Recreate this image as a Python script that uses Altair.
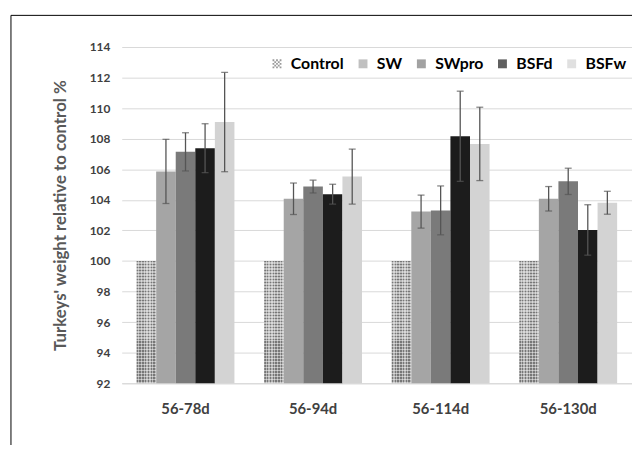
import altair as alt
import pandas as pd

groups = ["56-78d", "56-94d", "56-114d", "56-130d"]
series = ["Control", "SW", "SWpro", "BSFd", "BSFw"]

control = [100, 100, 100, 100]
sw = [105.86, 104.07, 103.23, 104.07]
swpro = [107.14, 104.87, 103.31, 105.21]
bsfd = [107.38, 104.37, 108.16, 102.03]
bsfw = [109.09, 105.52, 107.66, 103.81]

sw_err = [2.1, 1.03, 1.08, 0.8]
swpro_err = [1.25, 0.42, 1.6, 0.86]
bsfd_err = [1.6, 0.65, 2.95, 1.65]
bsfw_err = [3.25, 1.8, 2.4, 0.75]

colors = ["#6f6f6f", "#a5a5a5", "#7a7a7a", "#1c1c1c", "#d3d3d3"]
yticks = [92, 94, 96, 98, 100, 102, 104, 106, 108, 110, 112, 114]

vals = {"Control": control, "SW": sw, "SWpro": swpro, "BSFd": bsfd, "BSFw": bsfw}
errs = {"SW": sw_err, "SWpro": swpro_err, "BSFd": bsfd_err, "BSFw": bsfw_err}

rows = []
for s in series:
    for g, v in zip(groups, vals[s]):
        rows.append({"group": g, "series": s, "value": v})
df = pd.DataFrame(rows)
cdf = df[df["series"] == "Control"]

erows = []
for s, el in errs.items():
    for g, v, e in zip(groups, vals[s], el):
        erows.append({"group": g, "series": s, "lo": v - e, "hi": v + e})
edf = pd.DataFrame(erows)

# striped gradients used together as a dotted texture for the Control bars
def stripes(n, c1, c2, horizontal):
    st = []
    for k in range(n):
        st += [
            {"offset": k / n, "color": c1},
            {"offset": (k + 0.5) / n, "color": c1},
            {"offset": (k + 0.5) / n, "color": c2},
            {"offset": (k + 1) / n, "color": c2},
        ]
    if horizontal:
        return {"gradient": "linear", "x1": 0, "y1": 0, "x2": 0, "y2": 1, "stops": st}
    return {"gradient": "linear", "x1": 0, "y1": 0, "x2": 1, "y2": 0, "stops": st}

texture_h = stripes(41, "#777777", "#b8b8b8", True)
texture_v = stripes(7, "rgba(255,255,255,0)", "rgba(255,255,255,0.45)", False)

# checker symbol path for the Control legend entry
cells = 5
cs = 2 / cells
parts = []
for i in range(cells):
    for j in range(cells):
        if (i + j) % 2 == 0:
            x0 = -1 + i * cs
            y0 = -1 + j * cs
            parts.append(f"M{x0:.2f},{y0:.2f}h{cs:.2f}v{cs:.2f}h{-cs:.2f}z")
checker = "".join(parts)
shapes = [checker, "square", "square", "square", "square"]

font = "Lato"

xenc = alt.X(
    "group:N", sort=groups, title=None,
    scale=alt.Scale(paddingInner=0.233, paddingOuter=0.1165),
    axis=alt.Axis(labelAngle=0, labelAlign="center", bandPosition=0.5, ticks=False,
                  domainColor="#d9d9d9", labelPadding=19,
                  labelFont=font, labelFontSize=15, labelFontWeight="bold", labelColor="#404040"),
)
xoff = alt.XOffset("series:N", sort=series, scale=alt.Scale(domain=series, paddingInner=0, paddingOuter=0))
yscale = alt.Scale(domain=[92, 114], nice=False, zero=False)
yaxis = alt.Axis(values=yticks, domain=False, ticks=False, labelOverlap=False,
                 gridColor="#d9d9d9", labelPadding=12, labelFont=font, labelFontSize=12,
                 labelFontWeight="bold", labelColor="#404040", titleFont=font,
                 titleFontSize=17, titleFontWeight="bold", titleColor="#595959",
                 titlePadding=20)
ytitle = "Turkeys' weight relative to control %"

legend = alt.Legend(
    title=None, orient="none", direction="horizontal",
    legendX=149, legendY=9, padding=0,
    symbolSize=81, symbolStrokeWidth=0,
    labelFont=font, labelFontSize=16, labelFontWeight="bold",
    labelColor="#000000", labelOffset=6, columnPadding=11,
)
cscale = alt.Scale(domain=series, range=colors)

# hidden keys (drawn behind the bars) that give the legend its symbols
keys = alt.Chart(df).mark_point(filled=True, size=20).encode(
    x=xenc, xOffset=xoff,
    y=alt.Y("value:Q", scale=yscale, title=ytitle, axis=yaxis),
    yOffset=alt.value(30),
    color=alt.Color("series:N", sort=series, scale=cscale, legend=legend),
    shape=alt.Shape("series:N", sort=series, scale=alt.Scale(domain=series, range=shapes), legend=legend),
)

bars = alt.Chart(df).mark_bar().encode(
    x=xenc,
    xOffset=xoff,
    y=alt.Y("value:Q", scale=yscale, title=ytitle, axis=yaxis),
    y2=alt.datum(92),
    color=alt.condition(
        alt.datum.series == "Control",
        alt.value(texture_h),
        alt.Color("series:N", sort=series, scale=cscale, legend=legend),
    ),
)

overlay = alt.Chart(cdf).mark_bar(color=texture_v).encode(
    x=xenc, xOffset=xoff,
    y=alt.Y("value:Q", scale=yscale, title=ytitle, axis=yaxis), y2=alt.datum(92),
)

err_color = "#555555"
rules = alt.Chart(edf).mark_rule(color=err_color, strokeWidth=1.3).encode(
    x=xenc, xOffset=xoff,
    y=alt.Y("lo:Q", scale=yscale, title=ytitle, axis=yaxis), y2="hi:Q",
)
tlo = alt.Chart(edf).mark_tick(color=err_color, thickness=1.3, size=7).encode(
    x=xenc, xOffset=xoff, y=alt.Y("lo:Q", scale=yscale, title=ytitle, axis=yaxis),
)
thi = alt.Chart(edf).mark_tick(color=err_color, thickness=1.3, size=7).encode(
    x=xenc, xOffset=xoff, y=alt.Y("hi:Q", scale=yscale, title=ytitle, axis=yaxis),
)

frame = alt.Chart(pd.DataFrame({"f": [0]})).mark_rect(
    fill="transparent", stroke="#000000", strokeWidth=1
).encode(x=alt.value(-112), y=alt.value(-32), x2=alt.value(700), y2=alt.value(600))

chart = alt.layer(frame, keys, bars, overlay, rules, tlo, thi).properties(
    width=516, height=340,
    autosize=alt.AutoSizeParams(type="none"),
    padding={"left": 115, "top": 37, "right": 0, "bottom": 60},
).configure_view(stroke=None)

chart.save("out.html", embed_options={"renderer": "svg", "actions": False})
